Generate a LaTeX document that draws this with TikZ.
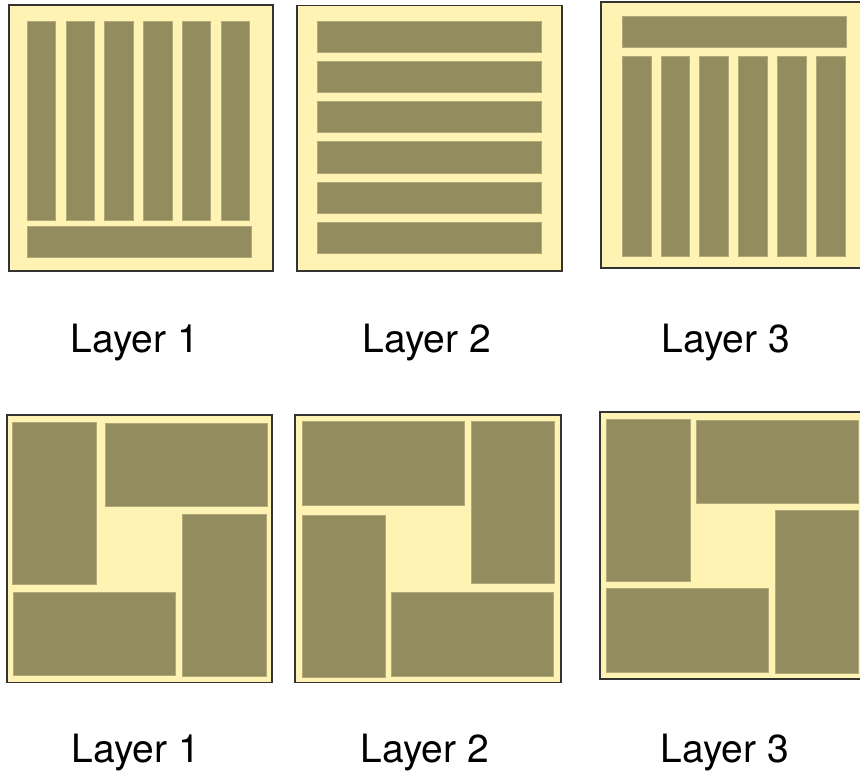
\documentclass[tikz,border=0pt]{standalone}
\usepackage{fontspec}
\setmainfont{TeX Gyre Heros}
\definecolor{paper}{HTML}{FFF3B4}
\definecolor{strip}{HTML}{928C5E}
\definecolor{stripedge}{HTML}{B0A978}
\definecolor{frame}{HTML}{333333}
\tikzset{
  panel/.style={draw=frame, fill=paper, line width=0.8pt},
  strip/.style={draw=stripedge, fill=strip, line width=0.5pt},
  caption/.style={anchor=base, inner sep=0pt, font=\fontsize{19.5}{23}\selectfont},
}

\begin{document}
\begin{tikzpicture}[x=0.5pt, y=-0.5pt]
    \useasboundingbox (0,0) rectangle (860,773);

    % top row
    \draw[panel] (9,5) rectangle (273,271);
    \foreach \i in {0,...,5}
      \draw[strip] (27.3+38.74*\i,21) rectangle ++(28.6,199.7);
    \draw[strip] (27.3,226) rectangle (251.3,257);

    \draw[panel] (296.7,5.3) rectangle (561.7,270.7);
    \foreach \i in {0,...,5}
      \draw[strip] (317,21+40.26*\i) rectangle ++(224,31.4);

    \draw[panel] (601,1.7) rectangle (875,267.7);
    \draw[strip] (622.3,16) rectangle (846.7,47.3);
    \foreach \i in {0,...,5}
      \draw[strip] (622.3+38.8*\i,56) rectangle ++(28.8,200);

    \node[caption] (top1) at (135,352.7) {Layer 1};
    \node[caption] (top2) at (427,352.7) {Layer 2};
    \node[caption] (top3) at (726,352.7) {Layer 3};

    % bottom row
    \draw[panel] (6.7,415) rectangle (272,682.3);
    \draw[strip] (12.7,422.7) rectangle (96,584.3);
    \draw[strip] (105,423.3) rectangle (267,506.7);
    \draw[strip] (182.7,514.3) rectangle (266,676.3);
    \draw[strip] (13.3,592) rectangle (175.3,675.3);

    \draw[panel] (295,415) rectangle (560.7,682.3);
    \draw[strip] (302.7,421.7) rectangle (464.7,505);
    \draw[strip] (471.3,421.7) rectangle (554.7,583.7);
    \draw[strip] (302,515.7) rectangle (385.3,677.7);
    \draw[strip] (391.7,592) rectangle (553.7,676);

    \draw[panel] (600,412) rectangle (875,678.7);
    \draw[strip] (606.7,419.3) rectangle (690,581.7);
    \draw[strip] (696.7,420) rectangle (858.7,503.7);
    \draw[strip] (775,510.7) rectangle (858.7,673);
    \draw[strip] (606.7,588.7) rectangle (768.7,672.3);

    \node[caption] (bot1) at (136,762.7) {Layer 1};
    \node[caption] (bot2) at (425,762.7) {Layer 2};
    \node[caption] (bot3) at (725,762.7) {Layer 3};
\end{tikzpicture}
\end{document}
